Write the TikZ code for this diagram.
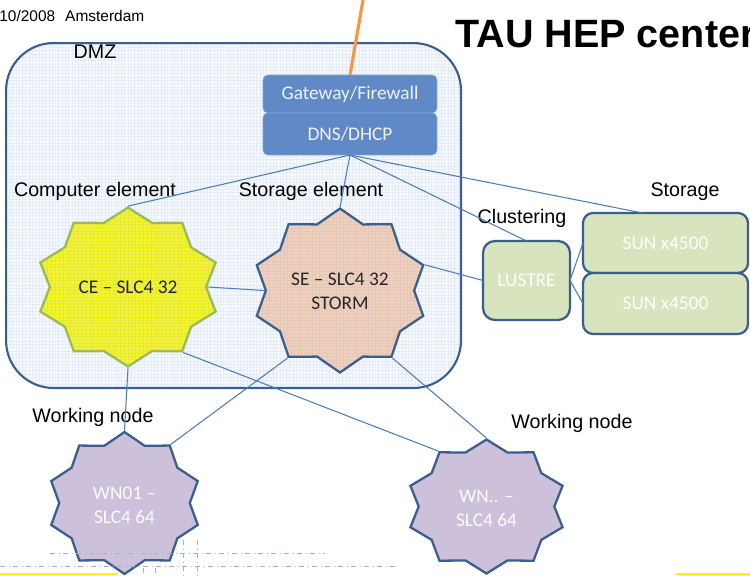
\documentclass[tikz,border=0pt]{standalone}
\usepackage{fontspec}
\setmainfont{Liberation Sans}
\newfontfamily\calibri{Carlito}
\usetikzlibrary{calc}
\usetikzlibrary{positioning}
\usetikzlibrary{shapes.geometric}
\definecolor{dmzblue}{RGB}{58,95,143}
\definecolor{dmzfill}{RGB}{246,249,253}
\definecolor{gridline}{RGB}{120,150,200}
\definecolor{svcfill}{RGB}{94,136,198}
\definecolor{linkblue}{RGB}{74,126,187}
\definecolor{cefill}{RGB}{245,245,40}
\definecolor{ceedge}{RGB}{155,187,89}
\definecolor{sefill}{RGB}{242,208,186}
\definecolor{wnfill}{RGB}{204,192,218}
\definecolor{lustrefill}{RGB}{215,228,189}
\definecolor{fworange}{RGB}{247,150,70}
\definecolor{guideblue}{RGB}{150,180,220}
\tikzstyle{gridded} = [path picture={\draw[gridline, line width=0.2pt, opacity=0.13] (path picture bounding box.south west) grid[step=0.066cm] (path picture bounding box.north east);}]
\tikzstyle{starnode} = [draw=dmzblue, line width=1.3pt, star, star points=10, star point ratio=1.18, inner sep=0pt, transform shape]
\tikzstyle{startext} = [font=\calibri\fontsize{11}{13.6}\selectfont, align=center, inner sep=0pt]
\tikzstyle{svcbox} = [draw=linkblue!70!white, fill=svcfill, gridded, rounded corners=0.1cm, outer sep=0pt, minimum width=3.48cm, text=white!90!svcfill, font=\calibri\fontsize{11}{13}\selectfont]
\tikzstyle{storebox} = [draw=dmzblue, line width=1.3pt, fill=lustrefill, outer sep=0pt, text=white, font=\calibri\fontsize{11}{13}\selectfont]
\tikzstyle{link} = [draw=linkblue, line width=0.6pt]
\tikzstyle{lbl} = [font=\fontsize{11.2}{13}\selectfont, inner sep=0pt]

\begin{document}
\begin{tikzpicture}[x=0.02cm, y=-0.02cm]
  \useasboundingbox (0,0) rectangle (750,575);

  % header of the slide
  \node[anchor=west, inner sep=0pt, font=\fontsize{8.8}{10}\selectfont] (date) at (-1,15.5) {10/2008\hspace{5.7pt}Amsterdam};
  \node[anchor=base west, inner sep=0pt, font=\bfseries\fontsize{22.5}{26}\selectfont] (title) at (455,47) {TAU HEP center};

  % DMZ
  \node[draw=dmzblue, line width=1.2pt, fill=dmzfill, gridded, rounded corners=0.95cm, minimum width=9.1cm, minimum height=6.9cm, anchor=north west] (dmz) at (5,42) {};
  \node[lbl] (dmzlbl) at (95,52) {DMZ};

  \node[svcbox, minimum height=0.76cm] (gw) at (350,94) {Gateway/Firewall};
  \node[svcbox, minimum height=0.84cm, below=0pt of gw] (dns) {DNS/DHCP};
  \coordinate (uplink) at (363,0);
  \draw[fworange, line width=1.8pt] (gw.north) -- (uplink);

  \node[lbl] (celbl) at (95,191) {Computer element};
  \node[lbl] (selbl) at (311,191) {Storage element};

  \node[starnode, fill=cefill, draw=ceedge, gridded, minimum size=3.18cm, xscale=1.16] (ce) at (128,287) {};
  \node[startext, text=black!85] (cetxt) at (128,287) {CE – SLC4 32};

  \node[starnode, fill=sefill, gridded, minimum size=3.28cm, xscale=1.067] (se) at (340,290.5) {};
  \node[startext, text=black!85] (setxt) at (340,291.5) {SE – SLC4 32\\STORM};

  % storage
  \node[lbl] (clbl) at (522,218) {Clustering};
  \node[lbl] (stlbl) at (685,192) {Storage};
  \node[storebox, rounded corners=0.24cm, minimum width=1.74cm, minimum height=1.58cm] (lustre) at (526.5,280.5) {LUSTRE};
  \node[storebox, rounded corners=0.2cm, minimum width=3.3cm, minimum height=1.2cm] (sun1) at (665.5,243) {SUN x4500};
  \node[storebox, rounded corners=0.2cm, minimum width=3.3cm, minimum height=1.22cm, below=0pt of sun1] (sun2) {SUN x4500};

  % working nodes
  \node[lbl] (wn1lbl) at (93,417) {Working node};
  \node[lbl] (wn2lbl) at (572,423) {Working node};
  \node[starnode, fill=wnfill, minimum size=2.84cm, xscale=1.085] (wn1) at (124.5,503) {};
  \node[startext, text=white!95!wnfill] (wn1txt) at (124.5,505) {WN01 –\\SLC4 64};
  \node[starnode, fill=wnfill, minimum size=2.68cm, xscale=1.194] (wn2) at (486.5,506.5) {};
  \node[startext, text=white!95!wnfill] (wn2txt) at (486.5,508.5) {WN.. –\\SLC4 64};

  % links
  \draw[link] (dns.south) -- (ce.outer point 1);
  \draw[link] (dns.south) -- (se.outer point 1);
  \draw[link] (dns.south) -- (lustre.north);
  \draw[link] (dns.south) -- ([xshift=-0.46cm]sun1.north);
  \draw[link] (ce.east) -- (se.west);
  \draw[link] (se.outer point 9) -- (lustre.west);
  \draw[link] (lustre.east) -- (sun1.west);
  \draw[link] (lustre.east) -- (sun2.west);
  \draw[link] (ce.outer point 6) -- (wn1.outer point 1);
  \draw[link] (ce.outer point 7) -- (wn2.outer point 2);
  \draw[link] (se.outer point 5) -- (wn1.outer point 10);
  \draw[link] (se.outer point 7) -- (wn2.outer point 1);

  % guides and bars at the bottom
  \draw[guideblue, dash dot, line width=0.5pt] (50,553) -- (325,553);
  \draw[guideblue, dash dot, line width=0.5pt] (0,566) -- (397,566);
  \draw[guideblue, dash dot, line width=0.5pt] (183,540) -- (183,575);
  \draw[guideblue, dash dot, line width=0.5pt] (197,540) -- (197,575);
  \draw[guideblue, dash dot, line width=0.5pt] (143,568) -- (143,575);
  \draw[guideblue, dash dot, line width=0.5pt] (155,568) -- (155,575);
  \fill[yellow] (0,572.5) rectangle (118,575);
  \fill[yellow] (676,572.5) rectangle (750,575);
\end{tikzpicture}
\end{document}
